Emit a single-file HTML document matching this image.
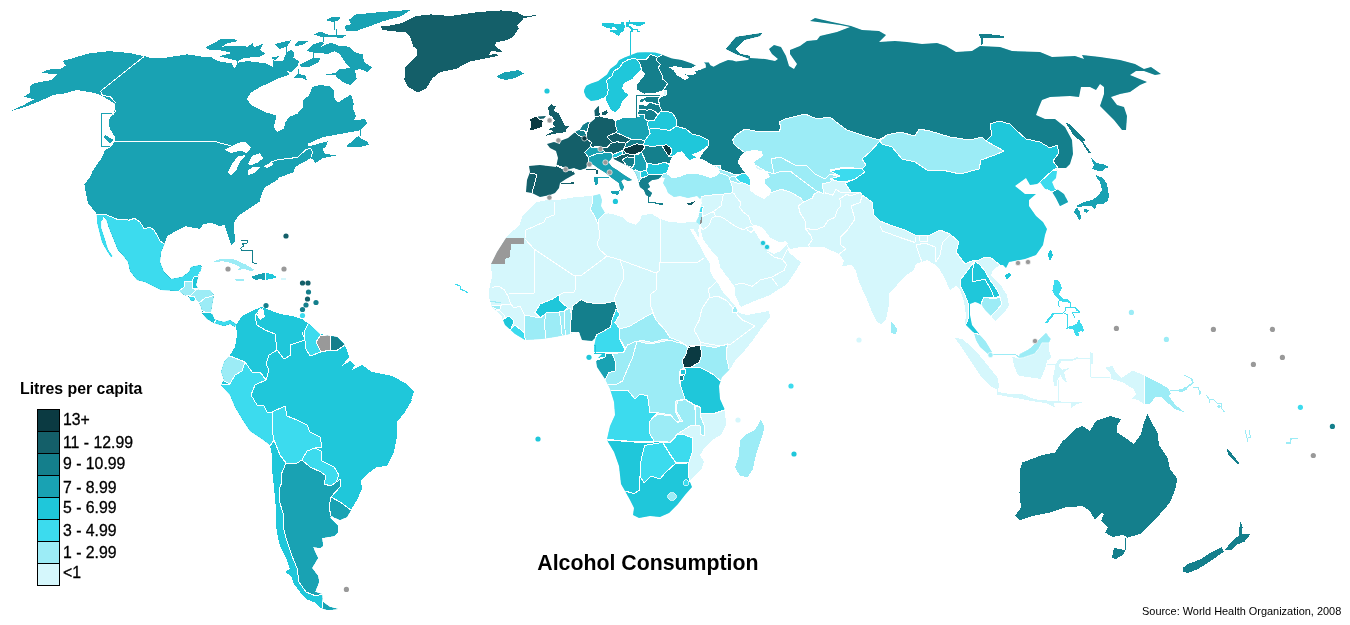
<!DOCTYPE html>
<html lang="en"><head><meta charset="utf-8"><title>Alcohol Consumption</title>
<style>
html,body{margin:0;padding:0;background:#fff;}
body{width:1350px;height:625px;overflow:hidden;font-family:"Liberation Sans",Arial,sans-serif;}
svg{display:block;}
text{font-family:"Liberation Sans",Arial,sans-serif;fill:#000;}
.lb{font-size:15.8px;stroke:#000;stroke-width:0.3px;}
.lt{font-size:15.85px;font-weight:bold;}
.ti{font-size:21.3px;font-weight:bold;}
.src{font-size:10.95px;}
</style></head><body>
<svg width="1350" height="625" viewBox="0 0 1350 625" shape-rendering="geometricPrecision">
<defs>
<clipPath id="cNA"><polygon points="10.4,111.3 24,104.8 34.4,99.4 24,96.8 29.6,92.8 29.6,86.4 34.4,83.2 51.2,80 56.8,74.4 41.6,72.8 48,69.6 60.8,68.8 65.6,65.6 62.4,60.8 72,58.4 88,53.6 108.8,51.2 128,52.8 144,56 152,58.4 166.4,57.6 187.2,54.4 203.2,56.8 211,57 217.4,61 231.8,63.4 234.2,69 238.2,62.6 247.8,61 265.4,63.4 272.6,66.6 273.4,61 283,61 286.2,53 291,49.8 294.2,53 293.4,57.8 299,61 297.4,66.6 291,72.2 286.2,70.6 289.4,74.6 279.8,77.8 272.1,81.7 260.4,86.8 251.1,92.6 246.9,98.5 250.3,104.4 257,107.8 267.1,112.8 276.3,115.3 275.5,120.4 273.8,127.1 277.2,132.1 283.9,128.8 285.6,122.1 288.9,117 297.4,113.7 303.2,106.9 303.2,100.2 309.1,95.2 312.5,86.8 319.2,85.1 329.3,85.9 334.3,91 333.5,96.8 337.7,102.7 351.1,94.3 353.7,103.6 352.8,108.6 356.2,116.2 353.7,120.4 364.6,119 367.1,122.9 362.9,127.9 359.5,130.5 336,134.7 322.6,137.2 307.4,143.9 308.3,146.4 327.6,141.4 325.9,147.3 322.6,148.9 325.1,154 336.8,155.3 322.6,158.2 315,163.2 314.2,160.7 310.8,158.2 295.7,166.6 293.2,172.5 278.9,177.5 277.2,180 264.8,187.5 262.2,192.8 259.6,201.6 249,208.7 238.4,215.7 234,222.7 234.9,242.1 231.4,245.6 227.9,235.1 224.4,224.5 220.8,226.3 210.3,222.7 203.2,224.5 199.7,228.9 185.6,226.3 175.1,231.5 167.1,236 164.5,243.9 161,252 160,262 164,272 171,279 182,277 189,272 191,267 200,265 202,267 201,271 198,277 196,285 199,290 210,290 214,295 211,312 216,320 224,322 230,320 236,324 235,327 230,324 224,326 217,324 214,323 207,319 202,313 201,307 199,303 196,300 191,301 189,297 184,295 179,291 161,290 145,282 137,280 130,271 128,262 122,254 117.9,250 109,228 106.4,220.1 104,217 96.7,214.8 95.8,212.2 87.9,203.4 86.2,194.6 84.4,184 89.7,177.8 92.3,171.7 96.7,164.6 102,157.6 104.6,150.6 111.7,146.2 115,141 115.2,137.6 110.4,129.6 108.8,124.8 109.6,118.4 114.4,111.2 115.2,104 110.4,100.8 99.2,94.4 89.6,92 76.8,90 64,93.6 54.4,94.7 43.2,99.5 32,104.3 24,107.2"/><polygon points="96.7,215 103,216.5 102.9,219.2 101.1,221 101.1,228 104.6,238.6 108.2,250 112.5,256 111,257 106.4,250 102,242.1 100.2,235 97.6,224.5"/></clipPath><clipPath id="cSA"><polygon points="236,325 242,316 252,311 261,307 267,309 280,314 292,316 302,319 309,324 320,334 330,336 337,337 344,344 347,350 349,357 342,366 350,361 355,365 352,370 362,365 372,372 392,376 407,384 414,392 411,400 412,400 405,412 397,422 397,437 394,452 387,466 377,467 367,474 361,480 362,489 357,500 351,510 347,517 340,520 331,516 330,518 338,526 338,532 334,536 322,538 323,546 320,548 313,547 316,554 318,558 312,568 318,576 319,582 315,592 322,594 323,602 330,607 338,609 328,610 320,608 316,603 306,599 300,592 294,584 291,576 285,572 290,569 286,558 280,546 278,538 276,526 276,510 274,487 272,470 272,455 270,445 262,439 250,431 244,422 235,407 230,395 221,385 224,380 221,372 224,362 230,355 235,347 237,335"/></clipPath><clipPath id="cEA"><polygon points="662.2,54.6 664,55.6 672,58.4 681.6,60 691.2,63.2 695.6,65.6 696,68 700.8,69.6 706,67.6 705.6,64 704,62.4 708.8,62.4 710.4,65.2 713.6,66.8 720,63.2 728,60 732.8,60.4 736,61.6 748,60 750,58 765,59 775,61 778,59 772,54 769,49 774,45 781,47 786,56 789,66 794,69 797,64 790,54 790,50 800,46 807,41 817,40 820,36 837,32 850,27 840,25 810,21 815,18 832,22 851,26 862,30 879,31 886,35 879,42 895,41 907,42 922,44 937,43 946,46 956,52 972,51 980,46 1000,47 1012,51 1040,52 1052,57 1075,56 1084,59 1082,55 1100,57 1120,60 1135,64 1144,69 1151,67 1161,74 1155,75 1144,71 1136,71 1130,75 1147,82 1140,85 1130,92 1120,94 1111,97 1117,105 1124,107 1127,116 1126,130 1122,130 1114,120 1100,106 1104,94 1104,87 1100,84 1096,90 1090,87 1081,87 1079,97 1070,96 1050,97 1042,100 1039,107 1036,115 1045,119 1055,119 1065,127 1072,140 1073,154 1070,164 1066,168 1058,168 1057,171 1056,178 1052,182 1055,189 1057,189 1064,194 1068,202 1060,206 1056,198 1052,192 1050,191 1045,189 1040,182 1037,184 1030,185 1026,178 1015,186 1025,194 1036,194 1029,200 1029,206 1036,216 1043,222 1047,229 1045,235 1043,245 1036,255 1025,259 1009,262 1006,268 1003,265 1000,265 993,270 991,276 1000,284 1007,295 1009,305 1005,312 995,321 992,317 990,315 985,310 982,305 978,303 975,302 970,304 970,315 972,325 980,335 986,342 992,352 988,354 980,347 976,340 974,333 970,329 965,324 966,315 964,301 960,290 956,286 950,290 944,277 940,270 934,264 927,260 916,264 914,270 905,276 897,285 889,294 889,305 886,319 881,324 877,322 872,312 866,297 859,282 856,271 852,265 842,266 844,261 840,255 839,254 824,247 810,247 798,247.5 790,249 787.5,245 787,244.5 788,249 789,252.5 801,262.5 795,272 787,284 770,295 752,302 741,307 739.7,305 735.4,295.6 734.7,287 728.9,279 724.6,273.3 720.3,267.5 718.1,258.1 711.6,250.9 707.3,245.2 703.1,239.3 700.9,231 700.6,226 699.5,224.5 696.3,222.2 698,217 699.2,212.4 701.4,205.7 702,196.7 700,199 697,196 688,198 680,196 674,197 668,193 666,188 663,183 665,178 661,177 658,179 652,180 648,183 650,187 647,189 652,193 650,197 646,195 644,190 640,187 639,183 638,179 636,174 633,169 628,166 620,162 614,159 613,155 611,159 608,162 612,167 617,170 624,175 632,180 628,181 624,179 621,181 624,187 622,191 620,188 619,183 612,178 606,173 598,168 594,165 588,162 586,168 580,170 574,168 566,170 573,171 575,174 566,179 560,183 559,188 555,193 550,195 540,197 532,193 526,192 527,180 530,172 529,166 540,165 556,167 558,158 556,151 550,148 547,144 554,142 560,144 560,141 568,138 574,133 577,131 580,130 583,125 588,122 590,123 595,119 595,116.6 594.4,110.6 597.4,107 599.8,105.2 598,100 591,101 586,97 584,92 584.2,89.8 586.2,85.8 591,83.4 598.2,81 607,74.6 610.2,69 616.6,64.2 619,60.2 624.6,57.4 631,55 637.4,52.6 645.4,52.2 655,52.6"/><polygon points="726,49 736,37 762,33 760,36 744,40 735,49 740,54 750,56 750,59 736,54"/></clipPath><clipPath id="cAF"><polygon points="548,200 558,200 576,197 592,196 600,194 602,200 601,206 605,213 612,214 622,217 628,222 636,225 640,220 642,215 652,214 660,219 668,221.5 676.8,222.5 686,222.5 695.8,221.9 697,219.5 699,225 698.3,230 699.3,238.5 698,236.5 693.5,228.8 690,228.6 691,231 694.3,236.5 698.6,243.7 703.7,253.8 709.5,262.5 710.2,271.1 713.8,278.3 719.5,285.5 722.4,291.3 728.9,298.5 734.7,305.7 739,312.9 747,315 769,311 770,317 760,330 753,340 745,350 737,358 730,369 722,377 719,386 720,399 725,410 726,425 721,435 712,440 705,447 700,455 704,462 701,470 691,479 690,482 692,487 685,495 678,504 669,513 660,517 650,516 639,518 633,515 634,508 630,500 625,491 621,484 619,466 614,452 608,442 607,439 610,426 615,415 614,402 610,389 605,379 597,367 596,360 602,354 594,354 594,347 596,337 592,341 582,340 579,332 570,334 555,337 542,339 525,340 515,334 505,325 501,315 492,307 489,297 489,290 492,277 491,264 497,252 506,238 508,235 514,230 520,224 523,215 530,208 537,202"/></clipPath>
</defs>
<rect width="1350" height="625" fill="#ffffff"/>
<g shape-rendering="crispEdges">
<polygon points="10.4,111.3 24,104.8 34.4,99.4 24,96.8 29.6,92.8 29.6,86.4 34.4,83.2 51.2,80 56.8,74.4 41.6,72.8 48,69.6 60.8,68.8 65.6,65.6 62.4,60.8 72,58.4 88,53.6 108.8,51.2 128,52.8 144,56 152,58.4 166.4,57.6 187.2,54.4 203.2,56.8 211,57 217.4,61 231.8,63.4 234.2,69 238.2,62.6 247.8,61 265.4,63.4 272.6,66.6 273.4,61 283,61 286.2,53 291,49.8 294.2,53 293.4,57.8 299,61 297.4,66.6 291,72.2 286.2,70.6 289.4,74.6 279.8,77.8 272.1,81.7 260.4,86.8 251.1,92.6 246.9,98.5 250.3,104.4 257,107.8 267.1,112.8 276.3,115.3 275.5,120.4 273.8,127.1 277.2,132.1 283.9,128.8 285.6,122.1 288.9,117 297.4,113.7 303.2,106.9 303.2,100.2 309.1,95.2 312.5,86.8 319.2,85.1 329.3,85.9 334.3,91 333.5,96.8 337.7,102.7 351.1,94.3 353.7,103.6 352.8,108.6 356.2,116.2 353.7,120.4 364.6,119 367.1,122.9 362.9,127.9 359.5,130.5 336,134.7 322.6,137.2 307.4,143.9 308.3,146.4 327.6,141.4 325.9,147.3 322.6,148.9 325.1,154 336.8,155.3 322.6,158.2 315,163.2 314.2,160.7 310.8,158.2 295.7,166.6 293.2,172.5 278.9,177.5 277.2,180 264.8,187.5 262.2,192.8 259.6,201.6 249,208.7 238.4,215.7 234,222.7 234.9,242.1 231.4,245.6 227.9,235.1 224.4,224.5 220.8,226.3 210.3,222.7 203.2,224.5 199.7,228.9 185.6,226.3 175.1,231.5 167.1,236 164.5,243.9 161,252 160,262 164,272 171,279 182,277 189,272 191,267 200,265 202,267 201,271 198,277 196,285 199,290 210,290 214,295 211,312 216,320 224,322 230,320 236,324 235,327 230,324 224,326 217,324 214,323 207,319 202,313 201,307 199,303 196,300 191,301 189,297 184,295 179,291 161,290 145,282 137,280 130,271 128,262 122,254 117.9,250 109,228 106.4,220.1 104,217 96.7,214.8 95.8,212.2 87.9,203.4 86.2,194.6 84.4,184 89.7,177.8 92.3,171.7 96.7,164.6 102,157.6 104.6,150.6 111.7,146.2 115,141 115.2,137.6 110.4,129.6 108.8,124.8 109.6,118.4 114.4,111.2 115.2,104 110.4,100.8 99.2,94.4 89.6,92 76.8,90 64,93.6 54.4,94.7 43.2,99.5 32,104.3 24,107.2" fill="#19a2b3"/>
<polygon points="96.7,215 103,216.5 102.9,219.2 101.1,221 101.1,228 104.6,238.6 108.2,250 112.5,256 111,257 106.4,250 102,242.1 100.2,235 97.6,224.5" fill="#3cdbee"/>
<g clip-path="url(#cNA)">
<polygon points="90,214.8 96.7,214.8 106.4,214.8 117,219.2 129.3,220.1 134.6,218.3 139.9,221.9 144.3,228.9 149.5,227.1 153.9,229.8 157.5,236 160.1,241.2 164.5,243.9 175,245 210,262 202,267 201,271 198,276 194,277 192,281 184,281 184,287 179,291 170,300 120,290 90,240" fill="#3cdbee" stroke="#ffffff" stroke-width="1" stroke-linejoin="round"/>
<polygon points="179,291 184,287 184,281 192,281 192,287 196,290 190,296 184,295 176,296" fill="#9cecf6" stroke="#ffffff" stroke-width="1" stroke-linejoin="round"/>
<polygon points="194,277 198,276 204,270 204,288 192,288 192,281" fill="#1fc7da" stroke="#ffffff" stroke-width="1" stroke-linejoin="round"/>
<polygon points="192,288 196,290 199,289 215,288 216,295 205,298 199,303 196,300 194,296 190,296 196,290" fill="#9cecf6" stroke="#ffffff" stroke-width="1" stroke-linejoin="round"/>
<polygon points="189,297 190,296 194,296 196,300 191,303 186,300" fill="#3cdbee" stroke="#ffffff" stroke-width="1" stroke-linejoin="round"/>
<polygon points="199,303 205,298 216,295 216,312 211,312 205,312 198,308" fill="#9cecf6" stroke="#ffffff" stroke-width="1" stroke-linejoin="round"/>
<polygon points="200,312 205,312 211,312 216,320 214,325 205,322" fill="#1fc7da" stroke="#ffffff" stroke-width="1" stroke-linejoin="round"/>
<polygon points="216,320 214,323 217,327 236,330 238,322 230,317 220,318" fill="#3cdbee" stroke="#ffffff" stroke-width="1" stroke-linejoin="round"/>
<polyline points="144,56.5 100.5,91.2 102.4,95.2 110.4,96.8 115.2,102.4 113.6,108 115.5,111.2 112.8,114.9" fill="none" stroke="#ffffff" stroke-width="1" stroke-linejoin="round"/>
<polyline points="115,141.5 215,141.5 220,143 226.8,144.7 231,146" fill="none" stroke="#ffffff" stroke-width="1" stroke-linejoin="round"/>
<polyline points="270.5,162.4 277.2,159.9 297.4,157.4 305.8,149.8 310.8,148.1 312.5,152.3 310.8,157.4" fill="none" stroke="#ffffff" stroke-width="1" stroke-linejoin="round"/>
</g>
<polygon points="205.4,47.4 220.6,39.4 231.8,38.6 239,41 227,43.4 222.2,46.6 233.4,45.8 247.8,46.6 252.6,43.4 254.2,47.4 263.8,43.4 259.8,49.8 265.4,53.8 259,57 244.6,57.8 238.2,61 231.8,59.4 219,56.2 231.8,53 222.2,50.6 209.4,49.8" fill="#19a2b3"/>
<polygon points="274.2,44.2 291,40.2 287,46.6 279.8,49" fill="#19a2b3"/>
<polygon points="294.2,45 299,41 308.6,41 303.8,44.2 295.8,46.6" fill="#19a2b3"/>
<polygon points="270.2,57.8 279,56.2 275,60.2" fill="#19a2b3"/>
<polygon points="307,50.6 313.4,44.2 321.4,41.8 324,43 321.4,46.6 331,42.6 339,45.8 348.6,46.6 355,52.2 363,54.6 363.8,61.8 371.8,67.4 367.8,72.2 359.8,69 355,70.6 356.6,78.6 350.2,85 342.2,81.8 336.6,77 335,74.5 321.4,75.4 335,73 339.8,69 350.2,68.2 345.4,62.6 339,53 334.2,51.4 327.8,53.8 318.2,53 310.2,52.2" fill="#19a2b3"/>
<polygon points="299,65 307,61 313.4,57.8 320.6,58.6 318.2,62.6 310.2,66.6 301.4,66.6" fill="#19a2b3"/>
<polygon points="292.6,78.6 298.2,73.8 305.4,75.4 307,80.2 300,77.5" fill="#19a2b3"/>
<polygon points="314.2,34.6 319.8,31.4 327.8,34.6 347,34.6 342.2,37.8 327.8,37 321.4,37" fill="#19a2b3"/>
<polygon points="325.4,20.2 332.6,17 340.6,17 339,20.2 332.6,21.8" fill="#19a2b3"/>
<polygon points="348.6,20.2 355,14.6 379,12.2 411,9.8 401.4,16.2 383.8,21 371,25.8 355,31.4 346.2,30.6 344.6,25.8 351.8,24.2" fill="#19a2b3"/>
<polygon points="346.1,146.4 358.7,135.5 361.2,138.9 367.1,141.4 368.8,144.7 362.9,146.4 354.5,147.3" fill="#19a2b3"/>
<polygon points="105,135 114,140 110,143 104,138" fill="#19a2b3"/>
<polygon points="224.2,149.8 231,146.4 240.2,142.2 246.1,142.2 251.1,147.3 246.9,153.2 240.2,150.6 231,153.2" fill="#ffffff"/>
<polygon points="227.6,172.5 231.8,164.1 237.7,156.5 246.1,154.8 240.2,161.6 236,170.8 231,175" fill="#ffffff"/>
<polygon points="247.8,164.1 252,155.7 259.5,153.2 263.7,158.2 257.9,162.4 251,165.5" fill="#ffffff"/>
<polygon points="247.8,170.8 252.8,166.6 260.4,167.4 255.3,172.5 248.6,175" fill="#ffffff"/>
<polygon points="263.7,166.6 270.5,162.4 273.8,164.1 267.1,168.3" fill="#ffffff"/>
<polygon points="381.2,26.4 382,29.6 390.8,31.2 405.2,32 410,36.8 413.2,46.4 417.2,49.6 417.2,55.2 410,62.4 405.2,67.2 404.4,80 408.4,87.2 418,92.4 426,88.8 432.4,78.4 440.4,72 456.4,68.8 469.2,61.6 482,59.2 498,56 496.3,53.6 488.3,55.2 491.5,51.2 502.7,52 494.7,45.6 496.3,42.4 507.5,40 512.3,37.6 518.7,28.8 517.1,25.6 523.5,18.4 537.9,15.2 523.5,16 517.1,12 501.1,10.4 478.7,12 450,16 430.8,14.4 416.4,16 402,23.2 389.2,25.6" fill="#145f69"/>
<polygon points="496.3,76.8 502.7,72.8 518.7,70 523.8,73.6 513.9,78.4 505.9,80 500,78.5" fill="#19a2b3"/>
<polygon points="213.8,261.1 222.2,258.6 234,259.4 245.7,264.5 255,270 250.8,271.2 244,268.7 240.5,269.5 237.3,270.4 240.7,267 230.6,262.8 222.2,261.1 215.5,262.3" fill="#9cecf6"/>
<polygon points="235,279 244,279 244,281 236,281" fill="#9cecf6"/>
<polygon points="251,277 259,274 265,273 265,280 259,279 256,280" fill="#19a2b3"/>
<polygon points="265.5,273 272,274 277,277 271,279 265.5,280" fill="#1fc7da"/>
<polygon points="281,278 286,278 286,280 281,280" fill="#d5f7fc"/>
<polygon points="236,325 242,316 252,311 261,307 267,309 280,314 292,316 302,319 309,324 320,334 330,336 337,337 344,344 347,350 349,357 342,366 350,361 355,365 352,370 362,365 372,372 392,376 407,384 414,392 411,400 412,400 405,412 397,422 397,437 394,452 387,466 377,467 367,474 361,480 362,489 357,500 351,510 347,517 340,520 331,516 330,518 338,526 338,532 334,536 322,538 323,546 320,548 313,547 316,554 318,558 312,568 318,576 319,582 315,592 322,594 323,602 330,607 338,609 328,610 320,608 316,603 306,599 300,592 294,584 291,576 285,572 290,569 286,558 280,546 278,538 276,526 276,510 274,487 272,470 272,455 270,445 262,439 250,431 244,422 235,407 230,395 221,385 224,380 221,372 224,362 230,355 235,347 237,335" fill="#1fc7da"/>
<g clip-path="url(#cSA)">
<polygon points="215,356 230,356 245,362 242,371 235,375 230,384 224,381 215,380" fill="#9cecf6" stroke="#ffffff" stroke-width="1" stroke-linejoin="round"/>
<polygon points="230,384 235,375 242,371 245,362 252,372 260,372 266,380 255,385 251,395 257,405 264,406 267,412 272,412 272,430 274,440 270,446 255,445 215,400 215,384" fill="#3cdbee" stroke="#ffffff" stroke-width="1" stroke-linejoin="round"/>
<polygon points="272,412 285,406 287,416 297,420 307,425 310,432 320,437 322,447 315,448 307,451 302,460 297,463 286,463 280,455 274,440 272,430" fill="#3cdbee" stroke="#ffffff" stroke-width="1" stroke-linejoin="round"/>
<polygon points="307,451 315,448 321,451 322,461 334,467 339,475 336,482 331,486 324,484 326,476 321,472 310,467 302,460" fill="#3cdbee" stroke="#ffffff" stroke-width="1" stroke-linejoin="round"/>
<polygon points="286,463 297,463 302,460 310,467 321,472 326,476 324,484 331,486 336,482 341,479 340,487 331,497 329,507 331,516 345,530 350,560 345,615 322,615 322,594 316,596 306,592 299,582 297,568 292,556 286,538 283,526 284,516 279,500 280,490 279,489 282,482 281,475" fill="#19a2b3" stroke="#ffffff" stroke-width="1" stroke-linejoin="round"/>
<polygon points="331,497 340,502 351,510 353,518 345,525 331,516 329,507" fill="#19a2b3" stroke="#ffffff" stroke-width="1" stroke-linejoin="round"/>
<polygon points="309,322 322,332 320,336 316,342 321,352 310,356 306,349 304,332" fill="#3cdbee" stroke="#ffffff" stroke-width="1" stroke-linejoin="round"/>
<polygon points="320,336 331,335 330,350 321,352 316,342" fill="#999999" stroke="#ffffff" stroke-width="1" stroke-linejoin="round"/>
<polygon points="331,335 345,337 345,345 336,351 330,350" fill="#147f8c" stroke="#ffffff" stroke-width="1" stroke-linejoin="round"/>
<polyline points="261,308 255,316 257,325 265,330 275,334 277,350 274,352" fill="none" stroke="#ffffff" stroke-width="1" stroke-linejoin="round"/>
<polyline points="274,352 269,355 266,364 269,370 266,380" fill="none" stroke="#ffffff" stroke-width="1" stroke-linejoin="round"/>
<polyline points="266,380 260,372 252,372 245,362" fill="none" stroke="#ffffff" stroke-width="1" stroke-linejoin="round"/>
<polyline points="277,350 284,359 291,355 290,345 305,340 302,332" fill="none" stroke="#ffffff" stroke-width="1" stroke-linejoin="round"/>
<polyline points="279,500 284,516 283,526 286,538 292,556 297,568 299,582 306,592 316,596 322,594" fill="none" stroke="#ffffff" stroke-width="1" stroke-linejoin="round"/>
<polyline points="270,446 274,440 280,455 286,463 281,475 282,482 279,490 279,500" fill="none" stroke="#ffffff" stroke-width="1" stroke-linejoin="round"/>
</g>
<polygon points="259,310 263,308 265,317 260,320 257,315" fill="#ffffff"/>
<polygon points="548,200 558,200 576,197 592,196 600,194 602,200 601,206 605,213 612,214 622,217 628,222 636,225 640,220 642,215 652,214 660,219 668,221.5 676.8,222.5 686,222.5 695.8,221.9 697,219.5 699,225 698.3,230 699.3,238.5 698,236.5 693.5,228.8 690,228.6 691,231 694.3,236.5 698.6,243.7 703.7,253.8 709.5,262.5 710.2,271.1 713.8,278.3 719.5,285.5 722.4,291.3 728.9,298.5 734.7,305.7 739,312.9 747,315 769,311 770,317 760,330 753,340 745,350 737,358 730,369 722,377 719,386 720,399 725,410 726,425 721,435 712,440 705,447 700,455 704,462 701,470 691,479 690,482 692,487 685,495 678,504 669,513 660,517 650,516 639,518 633,515 634,508 630,500 625,491 621,484 619,466 614,452 608,442 607,439 610,426 615,415 614,402 610,389 605,379 597,367 596,360 602,354 594,354 594,347 596,337 592,341 582,340 579,332 570,334 555,337 542,339 525,340 515,334 505,325 501,315 492,307 489,297 489,290 492,277 491,264 497,252 506,238 508,235 514,230 520,224 523,215 530,208 537,202" fill="#d5f7fc"/>
<g clip-path="url(#cAF)">
<polygon points="506,238 524,238 524,244 511,244 510,257 505,259 505,264 486,264 488,250" fill="#999999"/>
<polygon points="592,194 604,192 608,213 605,213 599,219 598,224 594,215 590,209 593,202" fill="#9cecf6" stroke="#ffffff" stroke-width="1" stroke-linejoin="round"/>
<polygon points="535,312.5 540,304 552.5,299 559,295 559,300 567.5,307.5 564,311 559.5,312 546,313 545.5,314 540,317.5" fill="#1fc7da" stroke="#ffffff" stroke-width="1" stroke-linejoin="round"/>
<polygon points="572.5,306 581,299.5 587.5,302.5 600,304 609,302.5 615,301 617.5,310 612,320 610.5,327 604,331 597,334.5 594,341 590,346 580,346 579,332.5 570,332 571,320" fill="#147f8c" stroke="#ffffff" stroke-width="1" stroke-linejoin="round"/>
<polygon points="616,309 620,314 615,322.5 620,329 619,337.5 625,350 622.5,352.5 605,352.5 595,352.5 588,352 590,345 594,341 597,334.5 604,331 610.5,327 612,320" fill="#3cdbee" stroke="#ffffff" stroke-width="1" stroke-linejoin="round"/>
<polygon points="620,329 630,326 640,320 652.5,313 656,320 665,330 670,337.5 682.5,342.5 675,342.5 665,339 652.5,342.5 640,340 635,346 625,347.5 619,337.5" fill="#9cecf6" stroke="#ffffff" stroke-width="1" stroke-linejoin="round"/>
<polygon points="588,360 597,360 605,357.5 605.5,353 612.5,354 616,364 615,371 609,372.5 605.5,379 600,384 588,372" fill="#19a2b3" stroke="#ffffff" stroke-width="1" stroke-linejoin="round"/>
<polygon points="592,352.5 605.5,353 605.5,357 597,358.5 592,358" fill="#1fc7da" stroke="#ffffff" stroke-width="1" stroke-linejoin="round"/>
<polygon points="612.5,354 624,352 627.5,345 636,341 636,345 632.5,357.5 626,372.5 622.5,381 615,385 609,384 605,386 603,381 605.5,379 609,372.5 615,371 616,364" fill="#9cecf6" stroke="#ffffff" stroke-width="1" stroke-linejoin="round"/>
<polygon points="636,341 650,344 670,340 686,345 687.5,347.5 686,354 682,361 684,367.5 679,372.5 680,384 685,399 676,401 675,411 680,421 676,422.5 671,415 656,412.5 650,412.5 647.5,396 640,394 635,399 627.5,390 610,390 606,387 609,384 615,385 622.5,381 626,372.5 632.5,357.5 636,345" fill="#9cecf6" stroke="#ffffff" stroke-width="1" stroke-linejoin="round"/>
<polygon points="687.5,347.5 689,346 694,345 700,345 702,354 699,362.5 691,367 684,367.5 682,361 686,354" fill="#0b3a42" stroke="#ffffff" stroke-width="1" stroke-linejoin="round"/>
<polygon points="700,345 715,347.5 727.5,344 726,355 729,369 736,372 722,382 712.5,374 700,367.5 691,367 699,362.5 702,354" fill="#9cecf6" stroke="#ffffff" stroke-width="1" stroke-linejoin="round"/>
<polygon points="684,367.5 691,367 700,367.5 712.5,374 722,382 732,385 732,409 724.5,410 712.5,414 701,413 700,407 694,404.5 685,399 680,384 680,381 683,380 684.5,374.5 685,374 685,369" fill="#1fc7da" stroke="#ffffff" stroke-width="1" stroke-linejoin="round"/>
<polygon points="680,369.5 685,369 685,374 680.5,374.5" fill="#1fc7da" stroke="#ffffff" stroke-width="1" stroke-linejoin="round"/>
<polygon points="679.5,376 684.5,374.5 683,380 680,381" fill="#147f8c" stroke="#ffffff" stroke-width="1" stroke-linejoin="round"/>
<polygon points="600,390 610,390 627.5,390 635,399 640,394 647.5,396 650,412.5 657,413 650,421 649,432.5 654,441 640,442 607.5,439.5 598,439" fill="#3cdbee" stroke="#ffffff" stroke-width="1" stroke-linejoin="round"/>
<polygon points="650,421 657.5,414 671,416 677.5,422.5 682.5,421 676,411 677.5,401 685,399.5 694,405 696,415 695,425 690,426 677.5,434 670,442.5 662.5,441 654,441 649,432.5" fill="#9cecf6" stroke="#ffffff" stroke-width="1" stroke-linejoin="round"/>
<polygon points="695,405.5 700,407.5 701,417.5 705,427.5 704,436 700,434 700,426 695,425 696,415" fill="#9cecf6" stroke="#ffffff" stroke-width="1" stroke-linejoin="round"/>
<polygon points="662.5,442 670,443 677.5,434.5 682.5,434 692.5,438 693,450 689,462 676,462.5 670,454" fill="#3cdbee" stroke="#ffffff" stroke-width="1" stroke-linejoin="round"/>
<polygon points="644.5,445 654,442 662.5,442.5 670,454.5 676,463 669,470 666,472 660,479 651,476 644,483 640,476 640,465" fill="#3cdbee" stroke="#ffffff" stroke-width="1" stroke-linejoin="round"/>
<polygon points="598,440 607.5,440 640,442.5 654,442 662,441 662.5,442.5 644.5,445.5 640,465 640,476 640,490 634,493.6 625,491 598,491" fill="#1fc7da" stroke="#ffffff" stroke-width="1" stroke-linejoin="round"/>
<polygon points="598,491 625,491 634,493.6 639.6,490 640,476 644,483 651,476 660,479 666,472 676,463 687,463 689,462.5 688,473 690,482 700,488 700,525 620,525" fill="#1fc7da" stroke="#ffffff" stroke-width="1" stroke-linejoin="round"/>
<polygon points="502,320 509,316 514,321 511,329 504,329" fill="#1fc7da" stroke="#ffffff" stroke-width="1" stroke-linejoin="round"/>
<polygon points="511,329 515,325 524,332.5 526,342 518,342 508,333" fill="#3cdbee" stroke="#ffffff" stroke-width="1" stroke-linejoin="round"/>
<polygon points="524,332 525,315 540,318 545.5,314 544.5,325 546,338 546,343 526,343" fill="#9cecf6" stroke="#ffffff" stroke-width="1" stroke-linejoin="round"/>
<polygon points="546,313 559.5,312 562.5,335 562,341 546,341 544.5,325 545.5,314" fill="#9cecf6" stroke="#ffffff" stroke-width="1" stroke-linejoin="round"/>
<polygon points="559.5,312 564,311 565.5,335 565.5,338 562.5,338" fill="#9cecf6" stroke="#ffffff" stroke-width="1" stroke-linejoin="round"/>
<polygon points="564,311 570,308 572,318 571,320 570,336 565.5,338" fill="#9cecf6" stroke="#ffffff" stroke-width="1" stroke-linejoin="round"/>
<polygon points="489,305.2 501.4,305.2 500,309 495,311 491,309" fill="#9cecf6" stroke="#ffffff" stroke-width="1" stroke-linejoin="round"/>
<polygon points="732,308 736,306 738,312 733,313" fill="#9cecf6" stroke="#ffffff" stroke-width="1" stroke-linejoin="round"/>
<polyline points="554,202 554,215 546,218 544,222 526,230 525,238" fill="none" stroke="#ffffff" stroke-width="1" stroke-linejoin="round"/>
<polyline points="525,239 534,249 573,275 576,276 582,275 607,256" fill="none" stroke="#ffffff" stroke-width="1" stroke-linejoin="round"/>
<polyline points="607,256 600,250 597,244 600,236 598,224" fill="none" stroke="#ffffff" stroke-width="1" stroke-linejoin="round"/>
<polyline points="534,249 534,293 509,293" fill="none" stroke="#ffffff" stroke-width="1" stroke-linejoin="round"/>
<polyline points="491.8,287.3 498.6,286.2 504.2,289.6 508,296.3 510.9,304" fill="none" stroke="#ffffff" stroke-width="1" stroke-linejoin="round"/>
<polyline points="607,256 619,259.5 656,273 659,271 659.5,262" fill="none" stroke="#ffffff" stroke-width="1" stroke-linejoin="round"/>
<polyline points="660,219 660,262.9 696.8,262.9 703.5,258.3" fill="none" stroke="#ffffff" stroke-width="1" stroke-linejoin="round"/>
<polyline points="620,259.5 623,269 623,280 618,290 614,299 617,306" fill="none" stroke="#ffffff" stroke-width="1" stroke-linejoin="round"/>
<polyline points="656,273 656,290 651,294 650,304 654,315 656,320" fill="none" stroke="#ffffff" stroke-width="1" stroke-linejoin="round"/>
<polyline points="576,276 575.8,288.4 573.6,292.4 563.5,292.9 558.5,295.2" fill="none" stroke="#ffffff" stroke-width="1" stroke-linejoin="round"/>
<polyline points="510.9,304 513.7,308 520,306 522.6,310.8 524.5,315" fill="none" stroke="#ffffff" stroke-width="1" stroke-linejoin="round"/>
<polyline points="697,219.5 699.3,225" fill="none" stroke="#ffffff" stroke-width="1" stroke-linejoin="round"/>
<polyline points="670,337.5 682.5,342.5 687.5,347.5 700,345 701,342.5" fill="none" stroke="#ffffff" stroke-width="1" stroke-linejoin="round"/>
<polyline points="716.1,282.2 708.6,288.9 709.4,297.3 701.8,309 699.3,320 694,330 701,342.5" fill="none" stroke="#ffffff" stroke-width="1" stroke-linejoin="round"/>
<polyline points="701,342.5 720,346 731,344 755,326 742.5,320 737.5,315 736,312" fill="none" stroke="#ffffff" stroke-width="1" stroke-linejoin="round"/>
<polyline points="709.4,297.3 718.6,296.5 727,300.7 733.8,309" fill="none" stroke="#ffffff" stroke-width="1" stroke-linejoin="round"/>
<polyline points="501.4,305 511,304.7" fill="none" stroke="#ffffff" stroke-width="1" stroke-linejoin="round"/>
<polyline points="492,307 500,311 505,316 503,320" fill="none" stroke="#ffffff" stroke-width="1" stroke-linejoin="round"/>
<ellipse cx="672" cy="496.4" rx="4.3" ry="3.8" fill="#9cecf6" stroke="#ffffff" stroke-width="0.7"/>
<ellipse cx="686" cy="482.6" rx="2.6" ry="3" fill="#3cdbee" stroke="#ffffff" stroke-width="0.7"/>
</g>
<polygon points="761,419.5 764.5,427.5 761,440 756,455 752.5,470 747.5,477 740,476 735,467.5 739,455 740,440 745,435 755,430" fill="#9cecf6"/>
<polygon points="662.2,54.6 664,55.6 672,58.4 681.6,60 691.2,63.2 695.6,65.6 696,68 700.8,69.6 706,67.6 705.6,64 704,62.4 708.8,62.4 710.4,65.2 713.6,66.8 720,63.2 728,60 732.8,60.4 736,61.6 748,60 750,58 765,59 775,61 778,59 772,54 769,49 774,45 781,47 786,56 789,66 794,69 797,64 790,54 790,50 800,46 807,41 817,40 820,36 837,32 850,27 840,25 810,21 815,18 832,22 851,26 862,30 879,31 886,35 879,42 895,41 907,42 922,44 937,43 946,46 956,52 972,51 980,46 1000,47 1012,51 1040,52 1052,57 1075,56 1084,59 1082,55 1100,57 1120,60 1135,64 1144,69 1151,67 1161,74 1155,75 1144,71 1136,71 1130,75 1147,82 1140,85 1130,92 1120,94 1111,97 1117,105 1124,107 1127,116 1126,130 1122,130 1114,120 1100,106 1104,94 1104,87 1100,84 1096,90 1090,87 1081,87 1079,97 1070,96 1050,97 1042,100 1039,107 1036,115 1045,119 1055,119 1065,127 1072,140 1073,154 1070,164 1066,168 1058,168 1057,171 1056,178 1052,182 1055,189 1057,189 1064,194 1068,202 1060,206 1056,198 1052,192 1050,191 1045,189 1040,182 1037,184 1030,185 1026,178 1015,186 1025,194 1036,194 1029,200 1029,206 1036,216 1043,222 1047,229 1045,235 1043,245 1036,255 1025,259 1009,262 1006,268 1003,265 1000,265 993,270 991,276 1000,284 1007,295 1009,305 1005,312 995,321 992,317 990,315 985,310 982,305 978,303 975,302 970,304 970,315 972,325 980,335 986,342 992,352 988,354 980,347 976,340 974,333 970,329 965,324 966,315 964,301 960,290 956,286 950,290 944,277 940,270 934,264 927,260 916,264 914,270 905,276 897,285 889,294 889,305 886,319 881,324 877,322 872,312 866,297 859,282 856,271 852,265 842,266 844,261 840,255 839,254 824,247 810,247 798,247.5 790,249 787.5,245 787,244.5 788,249 789,252.5 801,262.5 795,272 787,284 770,295 752,302 741,307 739.7,305 735.4,295.6 734.7,287 728.9,279 724.6,273.3 720.3,267.5 718.1,258.1 711.6,250.9 707.3,245.2 703.1,239.3 700.9,231 700.6,226 699.5,224.5 696.3,222.2 698,217 699.2,212.4 701.4,205.7 702,196.7 700,199 697,196 688,198 680,196 674,197 668,193 666,188 663,183 665,178 661,177 658,179 652,180 648,183 650,187 647,189 652,193 650,197 646,195 644,190 640,187 639,183 638,179 636,174 633,169 628,166 620,162 614,159 613,155 611,159 608,162 612,167 617,170 624,175 632,180 628,181 624,179 621,181 624,187 622,191 620,188 619,183 612,178 606,173 598,168 594,165 588,162 586,168 580,170 574,168 566,170 573,171 575,174 566,179 560,183 559,188 555,193 550,195 540,197 532,193 526,192 527,180 530,172 529,166 540,165 556,167 558,158 556,151 550,148 547,144 554,142 560,144 560,141 568,138 574,133 577,131 580,130 583,125 588,122 590,123 595,119 595,116.6 594.4,110.6 597.4,107 599.8,105.2 598,100 591,101 586,97 584,92 584.2,89.8 586.2,85.8 591,83.4 598.2,81 607,74.6 610.2,69 616.6,64.2 619,60.2 624.6,57.4 631,55 637.4,52.6 645.4,52.2 655,52.6" fill="#d5f7fc"/>
<polygon points="726,49 736,37 762,33 760,36 744,40 735,49 740,54 750,56 750,59 736,54" fill="#147f8c"/>
<g clip-path="url(#cEA)">
<polygon points="662.2,54.6 664,30 700,5 1170,5 1170,140 1085,175 1066,170 1058,168 1053,161 1059,153 1057,145 1050,148 1040,142 1026,139 1016,130 1010,124 999,121 990,124 992,135 986,141 982,137 970,140 950,137 930,131 919,129 915,136 900,132 887,135 879,140 862,135 847,130 840,125 830,117 817,119 805,114 785,119 779,122 781,127 779,132 770,131 760,132 745,129 736,135 732.6,140 734.4,144.8 744,152 752,156 748,174.2 739.2,174.2 735.6,174.8 727.2,171.8 718.2,168.8 712,170 695,162 695,152 709,145 708,140 700,136 692,134 686,129 676,126.2 676,119 674.6,116.4 671.7,112.6 666.4,111.6 661.1,111.1 661.6,110.6 660.1,107.3 659.2,104.6 658.7,99 660.6,96.7 666,95 666,90 663,90.6 667.8,83.4 663,79.4 661.8,74.6 658.2,67.4 660.6,64.6 656.2,60.2 657.4,57.4 662.2,54.6" fill="#147f8c" stroke="#ffffff" stroke-width="1" stroke-linejoin="round"/>
<polygon points="732.6,140 736,135 745,129 760,132 770,131 779,132 781,127 779,122 785,119 805,114 817,119 830,117 840,125 847,130 862,135 879,140 880,141 870,152 862,159 866,165 862,169 845,167 830,170 837,175 830,174 825,179 815,174 807,166 795,165 780,157 771,159 774,174 767,172 755,165 750,155 744,152 734.4,144.8 732.6,140" fill="#9cecf6" stroke="#ffffff" stroke-width="1" stroke-linejoin="round"/>
<polygon points="771,159 780,157 795,165 807,166 815,174 825,179 830,174 837,176 830,182 822,184 824,194 815,190 802,180 790,171 781,171 774,174" fill="#9cecf6" stroke="#ffffff" stroke-width="1" stroke-linejoin="round"/>
<polygon points="765,171 774,174 781,171 790,171 802,180 815,190 824,194 819.4,191.6 814.6,193.4 812.2,198.2 803.8,201.8 800.2,197.6 790.6,192.2 781,189.2 770.8,192.8 764,192" fill="#9cecf6" stroke="#ffffff" stroke-width="1" stroke-linejoin="round"/>
<polygon points="830,171 845,168 862,169 865,172 855,179 845,182 837,181 830,179 840,176" fill="#3cdbee" stroke="#ffffff" stroke-width="1" stroke-linejoin="round"/>
<polygon points="880,141 882,144 892,147 902,159 915,162 927,170 942,170 960,174 979,169 981,160 995,155 1004,151 995,146 986,141 992,135 990,124 999,121 1010,124 1016,130 1026,139 1040,142 1050,148 1057,145 1059,153 1053,161 1058,168 1053,170 1040,182 1037,192 1080,200 1080,275 1000,275 1000,265 990,257 985,257 979,260 974,260 965,264 956,252 959,242 950,234 940,230 930,235 917,236 905,230 890,225 880,221 874,215 872,202 862,195 860,192 851,192 845,183 855,179 865,172 862,169 866,165 862,159 870,152" fill="#1fc7da" stroke="#ffffff" stroke-width="1" stroke-linejoin="round"/>
<polygon points="880,141 887,135 900,132 915,136 919,129 930,131 950,137 970,140 982,137 986,141 995,146 1004,151 995,155 981,160 979,169 960,174 942,170 927,170 915,162 902,159 892,147 882,144" fill="#9cecf6" stroke="#ffffff" stroke-width="1" stroke-linejoin="round"/>
<polygon points="1040,182 1053,170 1057,170 1064,172 1060,180 1058,189 1052,192 1050,191 1045,189 1038,186" fill="#3cdbee" stroke="#ffffff" stroke-width="1" stroke-linejoin="round"/>
<polygon points="1052,192 1058,189 1072,190 1072,208 1054,208" fill="#19a2b3" stroke="#ffffff" stroke-width="1" stroke-linejoin="round"/>
<polygon points="575,115 680,115 680,160 660,172 655,200 600,200 575,175" fill="#147f8c"/>
<polygon points="662.4,174.2 666.6,172 672,170 680,165 720,165 720,173 727.2,175.4 729,177.2 730.8,182 732.6,188 732,192.8 720,194.6 708,195.2 702,196.4 701.4,203 655,203 661,183 661,178" fill="#9cecf6" stroke="#ffffff" stroke-width="1" stroke-linejoin="round"/>
<polygon points="716,166 718.2,168.8 727.2,171.8 735.6,174.8 739.2,174.2 735.6,176.6 729,177.2 727.2,175.4 720,173" fill="#9cecf6" stroke="#ffffff" stroke-width="1" stroke-linejoin="round"/>
<polygon points="729,177.2 735.6,176.6 736.8,179.6 741,182.6 739.2,183.8 732.6,181.4 730.8,182" fill="#9cecf6" stroke="#ffffff" stroke-width="1" stroke-linejoin="round"/>
<polygon points="735.6,176.6 739.8,174.2 745.8,173.5 752,178 752,187 744,183.2 741,182.6 736.8,179.6" fill="#3cdbee" stroke="#ffffff" stroke-width="1" stroke-linejoin="round"/>
<polygon points="699,206.6 703.2,206 702.6,212 699,212.6" fill="#3cdbee" stroke="#ffffff" stroke-width="1" stroke-linejoin="round"/>
<polygon points="695,222.3 698,216.9 699,212.8 702.5,212.8 702,216.9 700.9,223.6 699.9,226 699.3,225" fill="#9cecf6" stroke="#ffffff" stroke-width="1" stroke-linejoin="round"/>
<polygon points="960,280 965,274 970,267 975,261 980,265 985,271 990,280 997,290 1000,296 994,298 986,297 981,302 984,308 976,312 974,325 982,335 974,333 968,330 965,326 966.4,323.2 968.8,317.2 968.8,305.2 965,295 960.8,287" fill="#1fc7da" stroke="#ffffff" stroke-width="1" stroke-linejoin="round"/>
<polygon points="984,297 994,299 1000,297 1002,304 997,310 990,317 983,312 981,304" fill="#9cecf6" stroke="#ffffff" stroke-width="1" stroke-linejoin="round"/>
<polygon points="974,333 980,335 988,340 996,352 988,357 978,348 972,338" fill="#9cecf6" stroke="#ffffff" stroke-width="1" stroke-linejoin="round"/>
<polygon points="580,88 620,48 664,48 662.2,54.6 657.4,57.4 655.8,56.2 650.6,54.6 645.8,59.8 637,59.8 634.2,58.2 627.8,59.8 623,62.6 619,68.2 614.2,70.6 611.8,76.2 606.6,80.2 608.2,89.8 607,95 605,97 600,104 580,104" fill="#1fc7da" stroke="#ffffff" stroke-width="1" stroke-linejoin="round"/>
<polygon points="637,59.4 634.2,58.2 627.8,59.8 623,62.6 619,68.2 614.2,70.6 611.8,76.2 606.6,80.2 608.2,89.8 607,95 605,97 606,116 632,112 634,80 646,70 641.4,69 639.8,63" fill="#1fc7da" stroke="#ffffff" stroke-width="1" stroke-linejoin="round"/>
<polygon points="637,59.8 645.8,59.8 650.6,54.6 655.8,56.2 657.4,57.4 656.2,60.2 660.6,64.6 658.2,67.4 661.8,74.6 663,79.4 667.8,83.4 663,90.6 659,92.2 652,96 636,94 634,86 638,75 641.4,69 639.8,63" fill="#147f8c" stroke="#ffffff" stroke-width="1" stroke-linejoin="round"/>
<polygon points="637,95 661,95 660.6,96.7 658.7,99 659.2,104.6 654.9,103.9 650.5,102.2 648.6,102.4 647,102.5 644,102.5 637,102.5" fill="#147f8c" stroke="#ffffff" stroke-width="1" stroke-linejoin="round"/>
<polygon points="637,102.5 647,102.5 648.6,102.4 650.5,102.2 654.9,103.9 659.2,104.6 660.1,107.3 661.6,110.6 661.1,111.1 658.2,114.2 654.9,111.6 650.5,109.4 646.7,110.4 644.3,109.2 639.4,109.7 637,110" fill="#147f8c" stroke="#ffffff" stroke-width="1" stroke-linejoin="round"/>
<polygon points="637,110 639.4,109.7 644.3,109.2 646.7,110.4 650.5,109.4 654.9,111.6 658.2,114.2 656.3,116.9 654.4,120.2 648.4,121 644.8,119 637,119" fill="#147f8c" stroke="#ffffff" stroke-width="1" stroke-linejoin="round"/>
<polygon points="661.1,111.1 666.4,111.6 671.7,112.6 674.6,116.4 676,119 676,126.2 670,130.4 661.6,129.2 650.8,128 649,129.8 647.2,123.2 648.4,121 654.4,120.2 656.3,116.9 658.2,114.2" fill="#1fc7da" stroke="#ffffff" stroke-width="1" stroke-linejoin="round"/>
<polygon points="650.8,128 661.6,129.2 670,130.4 676,126.2 686,129 692,134 700,136 708,140 709,145 705,150 700,154 698,160 690,166 680,166 674,157 669,156.8 672,152 670.8,147.8 666.6,144.8 661.8,145.4 661.2,145.4 651.6,146.6 643.6,145 644.8,140.3 650.2,133.4 649,129.8" fill="#1fc7da" stroke="#ffffff" stroke-width="1" stroke-linejoin="round"/>
<polygon points="661.8,145.4 666.6,144.8 670.8,147.8 672,152 669,156.8 665.4,151.4" fill="#0b3a42" stroke="#ffffff" stroke-width="1" stroke-linejoin="round"/>
<polygon points="614.8,120.2 620,114 645,114 644.8,119 648.4,121 647.2,123.2 649,129.8 650.2,133.4 644.8,140.3 638.8,139.7 631,139.2 625.6,136.7 616,132.4 615.4,132.8 617.2,131 616,126.8" fill="#19a2b3" stroke="#ffffff" stroke-width="1" stroke-linejoin="round"/>
<polygon points="587.2,131 589.6,122 594,117 595,116.6 598,116.6 600,115 604,116 611.2,117 616,119 614.8,120.2 616,126.8 617.2,131 615.4,132.8 608.2,135.8 607.6,137.6 611.8,141.8 612.4,142.6 610,144.2 607.6,147.2 604,147.8 598.6,146.6 592,147.2 590.2,146 592,142.4 586.6,139.4 586.6,135.2 586.6,134.6" fill="#145f69" stroke="#ffffff" stroke-width="1" stroke-linejoin="round"/>
<polygon points="593,117 594,110 597,106 600.5,104.5 600.5,115 598,116.6 595,116.6" fill="#145f69" stroke="#ffffff" stroke-width="1" stroke-linejoin="round"/>
<polygon points="576,131 580,123 588,120 589.6,122 587.2,131 584.8,131 578.8,129.8" fill="#147f8c" stroke="#ffffff" stroke-width="1" stroke-linejoin="round"/>
<polygon points="572,134 576,130 578.8,129.8 584.8,131 586.6,134.6 586.6,135.2 584.4,138 582.4,137 579.4,135.8 574.6,132.2" fill="#147f8c" stroke="#ffffff" stroke-width="1" stroke-linejoin="round"/>
<polygon points="543,145 546,141 556,140 562,139 568,136 574.6,132.2 579.4,135.8 582.4,137 584.4,138 586.6,139.4 592,142.4 590.2,146 590.2,146.6 584.8,152.4 588.4,157.4 588,163 588,170 580,172 566,172 565.6,168.8 556,164.6 556,158 545,152" fill="#145f69" stroke="#ffffff" stroke-width="1" stroke-linejoin="round"/>
<polygon points="522,163 557,166 566,170 578,172 578,178 560,200 522,200" fill="#145f69" stroke="#ffffff" stroke-width="1" stroke-linejoin="round"/>
<polygon points="588.4,157.4 596.8,153.5 602.8,153.2 604,152.6 611.2,152.6 613,154.4 612.6,157 611,160 640,180 625,195 600,176 588,163" fill="#19a2b3" stroke="#ffffff" stroke-width="1" stroke-linejoin="round"/>
<polygon points="584.8,152.4 590.2,146.6 592,147.2 598,147.8 604,150.8 604,152.6 602.8,153.2 596.8,153.5 588.4,157.4" fill="#19a2b3" stroke="#ffffff" stroke-width="1" stroke-linejoin="round"/>
<polygon points="598.6,146.6 604,147.8 607.6,147.2 610,144.2 612.4,142.6 617.2,141.8 626,143.2 624.4,147.8 623.2,150.2 620.8,151.4 613,154.4 611.2,152.6 604,152.6 604,150.8 598,147.8" fill="#145f69" stroke="#ffffff" stroke-width="1" stroke-linejoin="round"/>
<polygon points="608.2,135.8 615.4,132.8 616,132.4 625.6,136.7 631,139.2 626,143.2 617.2,141.8 612.4,142.6 611.8,141.8 607.6,137.6" fill="#145f69" stroke="#ffffff" stroke-width="1" stroke-linejoin="round"/>
<polygon points="626,143.2 631,139.2 638.8,139.7 644.8,140.3 643.6,145 636.4,143.8 628,147 624.4,147.8" fill="#147f8c" stroke="#ffffff" stroke-width="1" stroke-linejoin="round"/>
<polygon points="623.2,150.2 624.4,147.8 628,147 636.4,143.8 643.6,145 645,147.2 641.4,152 634,154.6 626.8,153.8" fill="#0b3a42" stroke="#ffffff" stroke-width="1" stroke-linejoin="round"/>
<polygon points="612.6,154.4 613,154.4 620.8,151.4 623.2,150.2 622.6,153.8 622,154.4 616,157.4 612.6,157" fill="#1fc7da" stroke="#ffffff" stroke-width="1" stroke-linejoin="round"/>
<polygon points="612,157 616,157.4 622,154.4 626.8,153.8 634,154.6 634.2,158 627,156.8 622.2,159.8 626.4,165.2 632.4,167.6 628,169 620,163 612,160" fill="#145f69" stroke="#ffffff" stroke-width="1" stroke-linejoin="round"/>
<polygon points="622.2,159.8 627,156.8 634.2,158 635,162.8 632.4,167.6 626.4,165.2" fill="#147f8c" stroke="#ffffff" stroke-width="1" stroke-linejoin="round"/>
<polygon points="634,154.6 638.8,154.4 641.4,152 646.2,162.2 646.2,163.4 646.8,170 640.2,171.6 635.4,170 630,171 628,169 632.4,167.6 635,162.8 634.2,158" fill="#19a2b3" stroke="#ffffff" stroke-width="1" stroke-linejoin="round"/>
<polygon points="633,170 635.4,170 640.2,171.6 640.2,176 641.4,178.4 637.8,183.2 633,182" fill="#9cecf6" stroke="#ffffff" stroke-width="1" stroke-linejoin="round"/>
<polygon points="640.2,171.6 646.8,170 646.2,170.6 648,174.2 648,175.4 641.4,178.4 640.2,176" fill="#1fc7da" stroke="#ffffff" stroke-width="1" stroke-linejoin="round"/>
<polygon points="645,147.2 643.6,145 651.6,146.6 661.2,145.4 661.8,145.4 665.4,151.4 669,156.8 674,157 672,163 668.4,164 664.8,162.2 656.4,164.6 647.4,163.4 646.2,162.2 641.4,152" fill="#147f8c" stroke="#ffffff" stroke-width="1" stroke-linejoin="round"/>
<polygon points="647.4,163.4 656.4,164.6 664.8,162.2 668.4,164 672,166 669,172 661.8,174.4 656.4,174.8 648,175 648,174.2 646.2,170.6 646.8,170" fill="#1fc7da" stroke="#ffffff" stroke-width="1" stroke-linejoin="round"/>
<polygon points="637.8,183.2 641.4,178.4 648,175.4 648,175 656.4,174.8 661.8,174.4 662.5,175 661,178 657,182 657,200 640,200 634,186" fill="#147f8c" stroke="#ffffff" stroke-width="1" stroke-linejoin="round"/>
<polygon points="700.6,217.4 702,217.4 701.5,223.5 700.4,223.5" fill="#999999"/>
<polyline points="723.4,194.6 721,206 713.8,211.4 703,216.2" fill="none" stroke="#ffffff" stroke-width="1" stroke-linejoin="round"/>
<polyline points="713.8,212 715.6,216.5 712,218 709,225.2 703,230 700.8,227" fill="none" stroke="#ffffff" stroke-width="1" stroke-linejoin="round"/>
<polyline points="715.6,216.5 721,216.8 727,220.4 735.4,226.4 743.8,230 746.2,227.6 752.2,226.4" fill="none" stroke="#ffffff" stroke-width="1" stroke-linejoin="round"/>
<polyline points="746.2,227.6 748,230.5 751,232.4 753.4,230" fill="none" stroke="#ffffff" stroke-width="1" stroke-linejoin="round"/>
<polyline points="733.6,192.8 736.6,197.6 740.8,202.4 739.6,207.2 743.2,212 748.6,216.2 751,222.8 754.6,226.4" fill="none" stroke="#ffffff" stroke-width="1" stroke-linejoin="round"/>
<polyline points="803.8,201.8 798.4,206 800.2,213.2 805,220.4 805.6,228.8 811,236 812.2,239.6 808.6,245 810,247.5" fill="none" stroke="#ffffff" stroke-width="1" stroke-linejoin="round"/>
<polyline points="805.6,228.8 817,229.4 824.2,226.4 827.8,220.4 835,217.4 837.4,209.6 841,206 839.8,198.8 847,194 850,196 860,192.5" fill="none" stroke="#ffffff" stroke-width="1" stroke-linejoin="round"/>
<polyline points="824.8,192.8 832.6,195.2 836.2,189.2 841,192.8 850,193 860,192.5" fill="none" stroke="#ffffff" stroke-width="1" stroke-linejoin="round"/>
<polyline points="735.4,284.7 742.2,283 752.2,286.4 760.6,279.7 771.5,277.2 777.4,285.6" fill="none" stroke="#ffffff" stroke-width="1" stroke-linejoin="round"/>
<polyline points="771.5,277.2 784.1,270.4 786.7,264.6 782.5,259.5 774.1,257 767.4,252" fill="none" stroke="#ffffff" stroke-width="1" stroke-linejoin="round"/>
<polyline points="782.5,259.5 787.5,248.6" fill="none" stroke="#ffffff" stroke-width="1" stroke-linejoin="round"/>
<polyline points="862.5,195 872.5,202.5" fill="none" stroke="#ffffff" stroke-width="1" stroke-linejoin="round"/>
<polyline points="862.5,195 860,202.5 851,206 855,219 847.5,230 840,237.5 841,245 846,249 839,254" fill="none" stroke="#ffffff" stroke-width="1" stroke-linejoin="round"/>
<polyline points="880,226 882.5,231 900,237.5 915,242.5 916,237" fill="none" stroke="#ffffff" stroke-width="1" stroke-linejoin="round"/>
<polyline points="919,235.5 920,241 927.5,241 927.5,235" fill="none" stroke="#ffffff" stroke-width="1" stroke-linejoin="round"/>
<polyline points="922,262 920,257 916,245 925,243 935,247 935,253 936,262" fill="none" stroke="#ffffff" stroke-width="1" stroke-linejoin="round"/>
<polyline points="936,262 940,255 942.5,242.5 950,235" fill="none" stroke="#ffffff" stroke-width="1" stroke-linejoin="round"/>
<polyline points="530,173 537,174.4 535,182 532,193" fill="none" stroke="#ffffff" stroke-width="1" stroke-linejoin="round"/>
<polyline points="975,261 972,271 972,282 985,279 991,290 994,297" fill="none" stroke="#ffffff" stroke-width="1" stroke-linejoin="round"/>
</g>
<polygon points="669.6,66.6 676,66.4 684,68 692,67.6 695.6,66 698,67 700.8,69.6 695.2,71.6 696,73.6 691.2,75.6 685.2,74.4 689.6,77.6 684.8,80 676.8,75.2 673.6,70.4 668.8,67.4" fill="#ffffff"/>
<polygon points="599.3,105.4 597.4,100 605,97 605,98 608,104 611,110 615,112 620,108 622,102 628.6,94.6 624.6,92.2 622.2,88.2 623,85 626.2,81.8 632.6,78.6 636.6,73.8 640.6,70.6 641.4,69.6 641.8,70.6 645,73 643.8,77 640.6,80.2 637.4,84.2 637.4,89.8 641.4,92.2 644.6,93.6 650.2,93 659,92.2 663.5,90.5 663.8,94.3 660.6,96.7 659.7,97.6 653.9,96.9 646.2,97.4 640.9,99.6 639.9,101.7 642.8,101.7 644.7,100 648.6,103.4 646.2,106.8 642.8,104.6 639.4,105.3 638.5,107.7 639.2,110.1 638,114 640,117 635.2,117.8 624.4,117.8 616,120.8 614.8,120.2 611.2,119 604,117.8 600,116.6 599.8,114.8 599.2,110.6" fill="#ffffff"/>
<polygon points="666.6,174 667.2,171.2 669.6,164 670.8,159.2 673.2,155.6 676.8,152.6 681.6,151.4 684,153.8 686,156.5 689.4,160.4 693,158.4 696.6,157.8 702.6,159.2 712.2,164.6 718.2,168.8 720,173 718.2,174.8 715.2,176.6 710.4,177.8 704.4,176 698.4,174.2 691.2,173.6 684,174.8 679.2,177.2 672.6,178.4" fill="#ffffff"/>
<polygon points="691.8,154.6 699.6,151.4 708.6,145 705.6,149 703.2,152.6 699.5,158.2 696.6,157.8" fill="#ffffff"/>
<polygon points="744,152 748.8,150.8 755,150 762,151.4 763,156 754,162 757,169 761.8,170 767.8,172.4 770.2,177.2 764.2,179.6 764.8,183.2 770.8,189.2 770.2,194.6 764.2,198.8 757,195.8 749.8,190.4 750.4,182 749.4,178.4 745.8,174.2 741,167.6 737.4,162.2 740,157" fill="#ffffff"/>
<polygon points="751,226 756,225 762.5,227.5 770,237.5 780,242.5 786,241 789,245.5 787,244 785,246 781,251 774,254 767.5,251 762.5,244 757.5,236 752.5,228" fill="#ffffff"/>
<polygon points="601.6,113 606.4,110 607.8,112.4 605.2,115.4 602.5,115.3" fill="#145f69"/>
<polygon points="547.6,108.2 551.8,103.4 553,106.4 556,106.4 553.6,110.6 558.4,113 561.4,118.4 565,125.6 569.2,126.2 566.2,129.8 565.6,132.2 556,133.4 545.2,135.8 553.6,131 547.6,129.2 554.8,126.8 552.4,123.2 554.8,120.8 552.4,116.6 548.8,114.8 549.4,111.2" fill="#145f69"/>
<polygon points="536.8,116.6 546.4,115.4 544.6,118.4 540.4,119.3" fill="#145f69" stroke="#ffffff" stroke-width="0.5" stroke-linejoin="round"/>
<polygon points="530.2,119.6 536.2,116.6 539.2,119.6 542.8,120.8 541.6,126.8 532,130.4 529.6,129.8 531.4,125.6" fill="#0b3a42"/>
<polygon points="610.2,191.6 619.8,190.4 618,195.2 612,193.4" fill="#19a2b3"/>
<polygon points="594,178 598,177 598,184 595,185" fill="#19a2b3"/>
<polygon points="596,170 597.6,170 597.6,174 596,174" fill="#145f69"/>
<polygon points="654,202.4 663.6,203 662.4,204.8 656.4,204.2" fill="#147f8c"/>
<polygon points="687,203.6 694.8,201.2 692.4,204.2 688.8,205.8" fill="#145f69"/>
<polygon points="602,23.2 613.8,23.2 614.3,24.1 621,24.1 621,22.2 623.9,22.2 623.9,24.6 625.1,26.1 623.9,30.4 621,32.8 618.6,35.7 614.3,33.3 612.8,31.9 610.2,31.6 610.2,30.4 615.7,30.2 617.6,29 615.7,28.5 614.3,27 611.9,27 611.6,28.7 609.9,28.7 609.9,27.8 606.3,27.8 604.1,26.6 602,25.6" fill="#1fc7da"/>
<polygon points="626.1,22.2 628.7,22.2 629.4,20.1 630.9,22.2 644.8,22.2 644.8,23.7 643.1,24.6 640.7,25.6 635.9,25.6 635.4,24.6 631.1,24.4 629.2,24.1 628.7,26.1 631.1,26.6 633.5,29 637.6,29.2 637.9,31.1 639.8,31.4 637.4,32.3 636.9,30.4 633,30.4 632.6,31.6 630.6,31.6 630.6,29.4 628.7,26.6 626.1,26.6" fill="#1fc7da"/>
<polygon points="890.5,321 894,324 897.5,330 895,334.5 891,332.5" fill="#9cecf6"/>
<polygon points="1004.5,275 1010,272.5 1011,276 1007,279.5" fill="#1fc7da"/>
<polygon points="1047.5,254 1051,249 1053,255 1050,261" fill="#1fc7da"/>
<polygon points="1066,123 1070,124 1077,132 1086,140 1083,141.6 1091,153 1089,153.6 1081,141 1074,136 1069,128" fill="#147f8c"/>
<polygon points="1091,158 1096,163 1104,164.4 1109,167 1104,169 1102,171.6 1095,170 1092,169 1094,165" fill="#19a2b3"/>
<polygon points="1096,175 1103,178 1107,184 1109,196 1108,201 1103,204 1097,204 1095,210 1092,206 1085,206 1078,207 1076,206 1084,202 1092,200 1098,196 1102,190 1100,182 1097,178" fill="#19a2b3"/>
<polygon points="1074,212 1077,207 1080,212 1081,218 1079,220 1077,216" fill="#19a2b3"/>
<polygon points="1084,209 1089,210 1087,213 1084.4,212" fill="#19a2b3"/>
<polygon points="955,338 962.5,339 975,350 987.5,365 997.5,377.5 999,386 998,390 990,386 980,375 970,360 960,345" fill="#d5f7fc"/>
<polygon points="1012.2,356.7 1017.8,358.5 1023.3,357.6 1034.4,353.9 1039.1,348.3 1041.9,342.8 1049.3,342.8 1049.3,351.1 1051.1,357.6 1047.4,360.4 1044.6,369.6 1040.9,378.9 1027,377 1017.8,375.2 1014.1,365.9" fill="#d5f7fc"/>
<polygon points="1017.8,358.5 1019.6,353.9 1029.8,348.3 1034.4,343.7 1038.1,340 1046,332.5 1051,339 1049.3,342.8 1041.9,342.8 1039.1,348.3 1034.4,353.9 1023.3,357.6" fill="#9cecf6" stroke="#ffffff" stroke-width="0.6" stroke-linejoin="round"/>
<polygon points="997.4,391.9 1008.5,393.7 1021.5,393.7 1034.4,399.3 1053.9,401.1 1069.6,402 1084.4,402 1077,403.9 1071.5,407.6 1070.6,403 1053.9,403 1054.8,407.6 1045.6,403 1032.6,401.1 1017.8,398.3 1006.7,396.5 997.4,394.6" fill="#d5f7fc"/>
<polygon points="1053,377 1055.7,364.1 1059.4,358.5 1071.5,359.4 1078,356.7 1078,358.5 1071.5,361.3 1061.3,361.3 1058.5,365.9 1062.2,369.6 1069.6,367.8 1064.1,372.4 1066.9,382.6 1063.1,379.8 1060.4,375.2 1057.6,379.8 1056.7,386.3 1053.9,385.4" fill="#d5f7fc"/>
<polygon points="1090,353 1092.5,353.5 1093,364 1090,364" fill="#d5f7fc"/>
<polygon points="1104.8,367.8 1112.2,365.9 1115.9,372.4 1121.5,378 1132.6,370.6 1143.7,375.2 1143.7,403.9 1138.1,400.2 1131.7,398.3 1136.3,394.6 1133.5,389.1 1123.3,382.6 1111.3,378.9 1110.4,373.3" fill="#d5f7fc"/>
<polygon points="1145.2,376.1 1156.7,381.7 1167.8,388.1 1170.6,393.7 1169,396 1175.2,404.8 1184.4,412.2 1175.2,409.4 1167.8,403 1160.4,396.5 1154.8,397.4 1150.2,403.9 1145.2,403.9" fill="#9cecf6"/>
<polygon points="1054,280 1057.4,279.5 1060.2,283.4 1061.9,287.9 1059.1,294.1 1063,298.6 1067.5,299.4 1070.6,301.9 1070.6,303.5 1066.4,301.9 1063,302.5 1059.1,299.7 1054.6,295.2 1052.4,290.7 1053.5,284.6" fill="#3cdbee"/>
<polygon points="1072,326 1076.5,323.8 1079.3,318.2 1079.8,321.6 1082.1,324.9 1083.8,329.4 1083.2,332.8 1081,331.1 1078.1,332.2 1079.8,335 1077,336.7 1074.8,333.9 1073.1,329.4 1068.6,328.3 1068.6,325.5" fill="#3cdbee"/>
<polygon points="1074.8,308 1076.5,308.7 1078,311 1076,310.5" fill="#3cdbee"/>
<polygon points="1066.6,317.8 1068.4,317.8 1068.4,319.8 1066.6,319.8" fill="#3cdbee"/>
<polygon points="1020,470 1022.5,462.5 1042.5,455 1055,452.5 1062.5,441 1067.5,437.5 1075,429 1082.5,426 1090,431 1096,421 1110,416 1121,419 1117,426 1117.5,432.5 1134,444 1141,434 1144,422.5 1147.5,414 1152.5,424 1157.5,432.5 1159,445 1167.5,457.5 1170,469 1177.5,479 1175,490 1170,502.5 1160,514 1150,525 1140,534 1127.5,537.5 1122.5,535 1112.5,537 1105,532.5 1107.5,527.5 1101,521 1104,514 1102,512.5 1095,520 1090,511 1082.5,506 1065,507.5 1050,512.5 1032.5,516 1020,520 1015,516 1021,507.5 1019.5,492.5" fill="#147f8c"/>
<polygon points="1114,548 1125,550 1124,554 1115,559.5 1112,557.5" fill="#147f8c"/>
<polygon points="1240.3,521.4 1242.6,527 1241.8,534.4 1250.4,534.4 1244.6,541.6 1237.4,544.5 1231.6,550.3 1224.4,550.3 1233,540 1238.8,535.8 1239.5,527" fill="#147f8c"/>
<polygon points="1182.5,568 1188,564 1200,559.5 1211,552.5 1221.5,547 1224,551.5 1215,558 1206,564 1197,569.5 1188,573 1183,571.5" fill="#147f8c"/>
<polygon points="1227,449 1229,450 1239,463 1238,465 1228,455" fill="#147f8c"/>
<polygon points="978.5,34 984,33.5 1004,36 1004,38 983,38 983,44 980.5,45 980.5,38" fill="#147f8c"/>
<polyline points="701.3,217.4 700.9,223.6" fill="none" stroke="#8a8a8a" stroke-width="1" stroke-linejoin="round"/>
<polyline points="360.4,130 360.4,136" fill="none" stroke="#19a2b3" stroke-width="1" stroke-linejoin="round"/>
<polyline points="334.2,21 334.2,29.5" fill="none" stroke="#19a2b3" stroke-width="1" stroke-linejoin="round"/>
<polyline points="336.6,29 336.6,34.6" fill="none" stroke="#19a2b3" stroke-width="1" stroke-linejoin="round"/>
<polyline points="323,37 323,42" fill="none" stroke="#19a2b3" stroke-width="1" stroke-linejoin="round"/>
<polyline points="286.2,46.6 286.2,53" fill="none" stroke="#19a2b3" stroke-width="1" stroke-linejoin="round"/>
<polyline points="273.4,60 273.4,66.6" fill="none" stroke="#19a2b3" stroke-width="1" stroke-linejoin="round"/>
<polyline points="313.4,53 313.4,57.8" fill="none" stroke="#19a2b3" stroke-width="1" stroke-linejoin="round"/>
<polyline points="298.2,69 298.2,74" fill="none" stroke="#19a2b3" stroke-width="1" stroke-linejoin="round"/>
<polyline points="237.4,60 237.4,64" fill="none" stroke="#19a2b3" stroke-width="1" stroke-linejoin="round"/>
<polyline points="997.4,383 997.4,392" fill="none" stroke="#d5f7fc" stroke-width="1" stroke-linejoin="round"/>
<polyline points="1058.5,379.8 1058.5,401" fill="none" stroke="#d5f7fc" stroke-width="1" stroke-linejoin="round"/>
<polyline points="1047.4,364.1 1056.7,364.1" fill="none" stroke="#d5f7fc" stroke-width="1" stroke-linejoin="round"/>
<polyline points="1078,358.5 1090.9,358.5" fill="none" stroke="#d5f7fc" stroke-width="1" stroke-linejoin="round"/>
<polyline points="1090.9,352 1090.9,377 1110.4,377" fill="none" stroke="#d5f7fc" stroke-width="1" stroke-linejoin="round"/>
<polyline points="1169.6,390 1180.7,390" fill="none" stroke="#9cecf6" stroke-width="1" stroke-linejoin="round"/>
<polyline points="1179,390.5 1183,390 1186.3,388.1" fill="none" stroke="#9cecf6" stroke-width="3" stroke-linejoin="round"/>
<polyline points="1186.3,388.1 1192.8,382.6 1191.9,378.9" fill="none" stroke="#9cecf6" stroke-width="1.5" stroke-linejoin="round"/>
<polyline points="1191.9,378.9 1184.4,375.2" fill="none" stroke="#9cecf6" stroke-width="1" stroke-linejoin="round"/>
<polyline points="1192.8,387.2 1198.3,387.2 1200.2,393.7" fill="none" stroke="#9cecf6" stroke-width="1" stroke-linejoin="round"/>
<polyline points="1199.5,391 1200.5,394.5" fill="none" stroke="#9cecf6" stroke-width="2" stroke-linejoin="round"/>
<polyline points="1205.7,394.6 1209.4,399.3 1209.4,403" fill="none" stroke="#9cecf6" stroke-width="1" stroke-linejoin="round"/>
<polyline points="1209.4,399.3 1213.1,399.3 1216.9,403 1221.5,403 1221.5,408.5 1224.8,412.2" fill="none" stroke="#9cecf6" stroke-width="1" stroke-linejoin="round"/>
<polyline points="1217.5,406 1220.5,407" fill="none" stroke="#9cecf6" stroke-width="2.5" stroke-linejoin="round"/>
<polyline points="1059.1,300.3 1058,303.6 1058.5,305.9 1060.6,307.2" fill="none" stroke="#3cdbee" stroke-width="1" stroke-linejoin="round"/>
<polyline points="1070.6,302 1070.6,307.2" fill="none" stroke="#3cdbee" stroke-width="1" stroke-linejoin="round"/>
<polyline points="1066.4,307.2 1074.8,307.2 1076.5,308.7 1079.8,312.6 1072,312.6 1072,314.3" fill="none" stroke="#3cdbee" stroke-width="1" stroke-linejoin="round"/>
<polyline points="1065.8,307.2 1065.8,310.3 1063,313.1 1053.5,313.1" fill="none" stroke="#3cdbee" stroke-width="1" stroke-linejoin="round"/>
<polyline points="1053.8,313.4 1046,323" fill="none" stroke="#3cdbee" stroke-width="2.2" stroke-linejoin="round"/>
<polyline points="1064.1,313.7 1067.5,314.3 1067.5,324.9 1066.9,328.3 1072,327.2" fill="none" stroke="#3cdbee" stroke-width="1" stroke-linejoin="round"/>
<polyline points="1073.7,314.3 1074.2,317.6" fill="none" stroke="#3cdbee" stroke-width="1" stroke-linejoin="round"/>
<polyline points="112,113.3 101.3,113.3 101.3,146 110,146" fill="none" stroke="#19a2b3" stroke-width="1" stroke-linejoin="round"/>
<polyline points="630.5,31 630.5,55" fill="none" stroke="#1fc7da" stroke-width="1" stroke-linejoin="round"/>
<polyline points="659.7,95.6 636.7,95.6 636.7,117.5" fill="none" stroke="#147f8c" stroke-width="1" stroke-linejoin="round"/>
<polyline points="240.7,240.6 247.4,240.6 247.4,243 242,243 244,246 240.7,248 241.5,250.5 252.5,251 252.5,262.8 256.7,263.3" fill="none" stroke="#147f8c" stroke-width="1" stroke-linejoin="round"/>
<polyline points="648.4,190 648.4,202.4 654,202.4" fill="none" stroke="#147f8c" stroke-width="1" stroke-linejoin="round"/>
<polyline points="561,183 572,183" fill="none" stroke="#145f69" stroke-width="1" stroke-linejoin="round"/>
<polyline points="594,177.4 609,177.4" fill="none" stroke="#19a2b3" stroke-width="1" stroke-linejoin="round"/>
<polyline points="585.6,169.6 596,169.6 597,173" fill="none" stroke="#145f69" stroke-width="1" stroke-linejoin="round"/>
<polyline points="992,354.4 1015,354.4 1019,357" fill="none" stroke="#9cecf6" stroke-width="1" stroke-linejoin="round"/>
<polyline points="1125.5,537.5 1125.5,550" fill="none" stroke="#147f8c" stroke-width="1" stroke-linejoin="round"/>
<polyline points="594,345 595.5,345 595.5,353" fill="none" stroke="#1fc7da" stroke-width="1" stroke-linejoin="round"/>
<polyline points="1245,430 1246.5,436 1248,441.5" fill="none" stroke="#9cecf6" stroke-width="1" stroke-linejoin="round"/>
<polyline points="1249,430 1250.5,437 1248,438" fill="none" stroke="#9cecf6" stroke-width="1" stroke-linejoin="round"/>
<polyline points="1286,443 1290,443 1291,438.5 1298,438.5" fill="none" stroke="#9cecf6" stroke-width="1.5" stroke-linejoin="round"/>
<polyline points="455,284 460,286 460,289 465,291 468,293" fill="none" stroke="#3cdbee" stroke-width="1" stroke-linejoin="round"/>
<polyline points="490,301 501,303" fill="none" stroke="#9cecf6" stroke-width="1" stroke-linejoin="round"/>
<polyline points="571,183 573.5,183" fill="none" stroke="#145f69" stroke-width="1.6" stroke-linejoin="round"/>
<circle cx="228" cy="269" r="2.6" fill="#999999" shape-rendering="geometricPrecision"/>
<circle cx="284" cy="269" r="2.6" fill="#999999" shape-rendering="geometricPrecision"/>
<circle cx="346.4" cy="589.4" r="2.6" fill="#999999" shape-rendering="geometricPrecision"/>
<circle cx="1116.4" cy="328.4" r="2.6" fill="#999999" shape-rendering="geometricPrecision"/>
<circle cx="1213.4" cy="329.4" r="2.6" fill="#999999" shape-rendering="geometricPrecision"/>
<circle cx="1272.4" cy="329.4" r="2.6" fill="#999999" shape-rendering="geometricPrecision"/>
<circle cx="1282.4" cy="357.4" r="2.6" fill="#999999" shape-rendering="geometricPrecision"/>
<circle cx="1253.4" cy="364.4" r="2.6" fill="#999999" shape-rendering="geometricPrecision"/>
<circle cx="1313.3" cy="455.5" r="2.6" fill="#999999" shape-rendering="geometricPrecision"/>
<circle cx="547" cy="91" r="2.6" fill="#1fc7da" shape-rendering="geometricPrecision"/>
<circle cx="615.4" cy="201.4" r="2.6" fill="#1fc7da" shape-rendering="geometricPrecision"/>
<circle cx="589" cy="357.3" r="2.6" fill="#1fc7da" shape-rendering="geometricPrecision"/>
<circle cx="794" cy="454" r="2.6" fill="#1fc7da" shape-rendering="geometricPrecision"/>
<circle cx="538" cy="439" r="2.6" fill="#1fc7da" shape-rendering="geometricPrecision"/>
<circle cx="791" cy="386" r="2.6" fill="#3cdbee" shape-rendering="geometricPrecision"/>
<circle cx="1300.4" cy="407.3" r="2.6" fill="#3cdbee" shape-rendering="geometricPrecision"/>
<circle cx="302.5" cy="315.5" r="2.6" fill="#3cdbee" shape-rendering="geometricPrecision"/>
<circle cx="738" cy="420" r="2.6" fill="#d5f7fc" shape-rendering="geometricPrecision"/>
<circle cx="859" cy="340" r="2.6" fill="#d5f7fc" shape-rendering="geometricPrecision"/>
<circle cx="1131.4" cy="312.4" r="2.6" fill="#9cecf6" shape-rendering="geometricPrecision"/>
<circle cx="1166.4" cy="339.4" r="2.6" fill="#9cecf6" shape-rendering="geometricPrecision"/>
<circle cx="286" cy="236" r="2.6" fill="#145f69" shape-rendering="geometricPrecision"/>
<circle cx="302.5" cy="283" r="2.6" fill="#145f69" shape-rendering="geometricPrecision"/>
<circle cx="308" cy="283" r="2.6" fill="#145f69" shape-rendering="geometricPrecision"/>
<circle cx="308.5" cy="292" r="2.6" fill="#147f8c" shape-rendering="geometricPrecision"/>
<circle cx="307.5" cy="299" r="2.6" fill="#145f69" shape-rendering="geometricPrecision"/>
<circle cx="316" cy="302.5" r="2.6" fill="#147f8c" shape-rendering="geometricPrecision"/>
<circle cx="306" cy="305" r="2.6" fill="#147f8c" shape-rendering="geometricPrecision"/>
<circle cx="302.5" cy="309.5" r="2.6" fill="#147f8c" shape-rendering="geometricPrecision"/>
<circle cx="266" cy="305.5" r="2.6" fill="#147f8c" shape-rendering="geometricPrecision"/>
<circle cx="1332.4" cy="426.4" r="2.6" fill="#147f8c" shape-rendering="geometricPrecision"/>
<circle cx="558.4" cy="140.4" r="2.6" fill="#999999" stroke="#ffffff" stroke-width="0.6" shape-rendering="geometricPrecision"/>
<circle cx="549.6" cy="120.4" r="2.6" fill="#999999" stroke="#ffffff" stroke-width="0.6" shape-rendering="geometricPrecision"/>
<circle cx="600.4" cy="149" r="2.6" fill="#999999" stroke="#ffffff" stroke-width="0.6" shape-rendering="geometricPrecision"/>
<circle cx="589.4" cy="164.4" r="2.6" fill="#999999" stroke="#ffffff" stroke-width="0.6" shape-rendering="geometricPrecision"/>
<circle cx="605.4" cy="162.4" r="2.6" fill="#999999" stroke="#ffffff" stroke-width="0.6" shape-rendering="geometricPrecision"/>
<circle cx="565.6" cy="169.4" r="2.6" fill="#999999" stroke="#ffffff" stroke-width="0.6" shape-rendering="geometricPrecision"/>
<circle cx="609.6" cy="172.4" r="2.6" fill="#999999" stroke="#ffffff" stroke-width="0.6" shape-rendering="geometricPrecision"/>
<circle cx="549.4" cy="197.6" r="2.6" fill="#999999" stroke="#ffffff" stroke-width="0.6" shape-rendering="geometricPrecision"/>
<circle cx="1018" cy="263" r="2.6" fill="#999999" stroke="#ffffff" stroke-width="0.6" shape-rendering="geometricPrecision"/>
<circle cx="1028" cy="262" r="2.6" fill="#999999" stroke="#ffffff" stroke-width="0.6" shape-rendering="geometricPrecision"/>
<circle cx="1035" cy="341" r="2.6" fill="#999999" stroke="#ffffff" stroke-width="0.6" shape-rendering="geometricPrecision"/>
<circle cx="763" cy="243" r="2.6" fill="#1fc7da" stroke="#ffffff" stroke-width="0.6" shape-rendering="geometricPrecision"/>
<circle cx="767" cy="247" r="2.6" fill="#1fc7da" stroke="#ffffff" stroke-width="0.6" shape-rendering="geometricPrecision"/>
<circle cx="990.5" cy="355" r="2.6" fill="#9cecf6" stroke="#ffffff" stroke-width="0.6" shape-rendering="geometricPrecision"/>
<circle cx="584.4" cy="138.4" r="2.6" fill="#0b3a42" stroke="#ffffff" stroke-width="0.6" shape-rendering="geometricPrecision"/>
</g>
<text x="20" y="394" class="lt">Litres per capita</text>
<rect x="37.5" y="409.5" width="22" height="22" fill="#0b3a42" stroke="#000" stroke-width="1"/>
<text x="63" y="425" class="lb">13+</text>
<rect x="37.5" y="431.5" width="22" height="22" fill="#145f69" stroke="#000" stroke-width="1"/>
<text x="63" y="447.5" class="lb">11 - 12.99</text>
<rect x="37.5" y="453.5" width="22" height="22" fill="#147f8c" stroke="#000" stroke-width="1"/>
<text x="63" y="469" class="lb">9 - 10.99</text>
<rect x="37.5" y="475.5" width="22" height="22" fill="#19a2b3" stroke="#000" stroke-width="1"/>
<text x="63" y="493" class="lb">7 - 8.99</text>
<rect x="37.5" y="497.5" width="22" height="22" fill="#1fc7da" stroke="#000" stroke-width="1"/>
<text x="63" y="513" class="lb">5 - 6.99</text>
<rect x="37.5" y="519.5" width="22" height="22" fill="#3cdbee" stroke="#000" stroke-width="1"/>
<text x="63" y="536" class="lb">3 - 4.99</text>
<rect x="37.5" y="541.5" width="22" height="22" fill="#9cecf6" stroke="#000" stroke-width="1"/>
<text x="63" y="558" class="lb">1 - 2.99</text>
<rect x="37.5" y="563.5" width="22" height="22" fill="#d5f7fc" stroke="#000" stroke-width="1"/>
<text x="63" y="578" class="lb">&lt;1</text>
<text x="537.3" y="570" class="ti">Alcohol Consumption</text>
<text x="1142" y="615" class="src">Source: World Health Organization, 2008</text>
</svg>
</body></html>
